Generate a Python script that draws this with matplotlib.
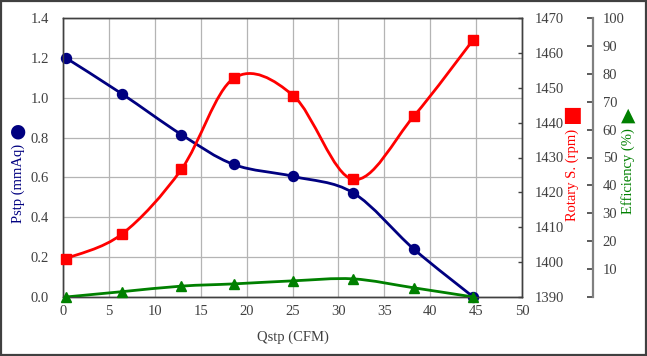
import numpy as np
import matplotlib
matplotlib.use("Agg")
import matplotlib.pyplot as plt
from matplotlib.path import Path
from matplotlib.patches import PathPatch, Rectangle
from matplotlib.ticker import FuncFormatter

# ---- data ----
qstp = [0.3, 6.4, 12.9, 18.6, 25.1, 31.6, 38.2, 44.7]
pstp = [1.20, 1.02, 0.815, 0.665, 0.605, 0.523, 0.241, 0.0]
rpm = [1401, 1408, 1426.6, 1452.7, 1447.7, 1423.7, 1441.8, 1463.8]
eff = [0.0, 1.9, 3.9, 4.7, 5.8, 6.5, 3.3, 0.0]

x_ticks = list(range(0, 51, 5))
p_ticks = [0.0, 0.2, 0.4, 0.6, 0.8, 1.0, 1.2, 1.4]
r_ticks = list(range(1390, 1471, 10))
e_ticks = list(range(0, 101, 10))

NAVY = "#000080"
RED = "#FF0000"
GREEN = "#008000"
TICKC = "#404040"
FONT = ["Liberation Serif", "DejaVu Serif"]
SYM = ["DejaVu Sans"]

plt.rcParams["font.family"] = FONT


def smooth_path(x, y):
    pts = np.column_stack([x, y]).astype(float)
    n = len(pts)
    verts = [pts[0]]
    codes = [Path.MOVETO]
    for i in range(n - 1):
        p0 = pts[i - 1] if i > 0 else pts[i]
        p1 = pts[i]
        p2 = pts[i + 1]
        p3 = pts[i + 2] if i + 2 < n else pts[i + 1]
        c1 = p1 + (p2 - p0) / 6.0
        c2 = p2 - (p3 - p1) / 6.0
        verts += [c1, c2, p2]
        codes += [Path.CURVE4] * 3
    return Path(verts, codes)


W, H = 647, 356
fig = plt.figure(figsize=(W / 100, H / 100), dpi=100)
L, R, T, B = 63, 522, 18, 297
ax1 = fig.add_axes([L / W, 1 - B / H, (R - L) / W, (B - T) / H])
ax2 = ax1.twinx()
ax3 = ax1.twinx()

# axis 1 : Pstp
ax1.set_xlim(0, 50)
ax1.set_ylim(0, 1.4)
ax1.set_xticks(x_ticks)
ax1.set_yticks(p_ticks)
ax1.yaxis.set_major_formatter(FuncFormatter(lambda v, p: f"{v:.1f}"))
ax1.grid(True, color="#b4b4b4", lw=0.9)
ax1.set_axisbelow(True)
ax1.tick_params(axis="both", length=0, labelsize=10.5, colors=TICKC)
ax1.tick_params(axis="y", pad=10)
ax1.tick_params(axis="x", pad=6)
for s in ax1.spines.values():
    s.set_color("#404040")
    s.set_linewidth(1.0)
ax1.set_xlabel("Qstp (CFM)", fontsize=10.5, color=TICKC, labelpad=9)

ax1.add_patch(PathPatch(smooth_path(qstp, pstp), fill=False, edgecolor=NAVY, lw=2.0))
ax1.plot(qstp, pstp, ls="none", marker="o", ms=7.2, color=NAVY, clip_on=False, zorder=3)

# axis 2 : rpm
ax2.set_ylim(1390, 1470)
ax2.set_yticks(r_ticks)
ax2.tick_params(axis="y", direction="in", length=3, width=1, colors=TICKC,
                labelsize=10.5, pad=9)
ax2.add_patch(PathPatch(smooth_path(qstp, rpm), fill=False, edgecolor=RED, lw=2.0))
ax2.plot(qstp, rpm, ls="none", marker="s", ms=7.5, color=RED, clip_on=False, zorder=3)
for s in ax2.spines.values():
    s.set_color("#404040")
    s.set_linewidth(1.0)

# axis 3 : efficiency
ax3.set_ylim(0, 100)
ax3.set_yticks(e_ticks)
ax3.yaxis.set_major_formatter(FuncFormatter(lambda v, p: "" if v == 0 else f"{v:.0f}"))
ax3.spines["right"].set_position(("axes", (593 - L) / (R - L)))
ax3.spines["right"].set_color("#808080")
ax3.spines["right"].set_linewidth(1.6)
for k in ("left", "top", "bottom"):
    ax3.spines[k].set_visible(False)
ax3.tick_params(axis="y", direction="in", length=4, width=1.2, color="#404040",
                labelcolor=TICKC, labelsize=10.5, pad=7)
ax3.add_patch(PathPatch(smooth_path(qstp, eff), fill=False, edgecolor=GREEN, lw=2.0))
ax3.plot(qstp, eff, ls="none", marker="^", ms=7.2, color=GREEN, clip_on=False, zorder=3)

# axis titles with symbols
fig.text(18 / W, 1 - 183 / H, "Pstp (mmAq)", rotation=90, ha="center", va="center",
         fontsize=10.5, color=NAVY)
fig.text(18.5 / W, 1 - 131 / H, "\u25CF", ha="center", va="center", fontsize=13.5,
         color=NAVY, family=SYM)
fig.text(572 / W, 1 - 175 / H, "Rotary S. (rpm)", rotation=90, ha="center", va="center",
         fontsize=10.5, color=RED)
fig.text(572 / W, 1 - 115 / H, "\u25A0", ha="center", va="center", fontsize=15,
         color=RED, family=SYM)
fig.text(628 / W, 1 - 171 / H, "Efficiency (%)", rotation=90, ha="center", va="center",
         fontsize=10.5, color=GREEN)
fig.text(628 / W, 1 - 115 / H, "\u25B2", ha="center", va="center", fontsize=13.5,
         color=GREEN, family=SYM)

# figure border
fig.add_artist(Rectangle((0.001, 0.002), 0.997, 0.995, transform=fig.transFigure,
                         fill=False, edgecolor="#404040", lw=1.6))

fig.savefig("out.png", dpi=100)
